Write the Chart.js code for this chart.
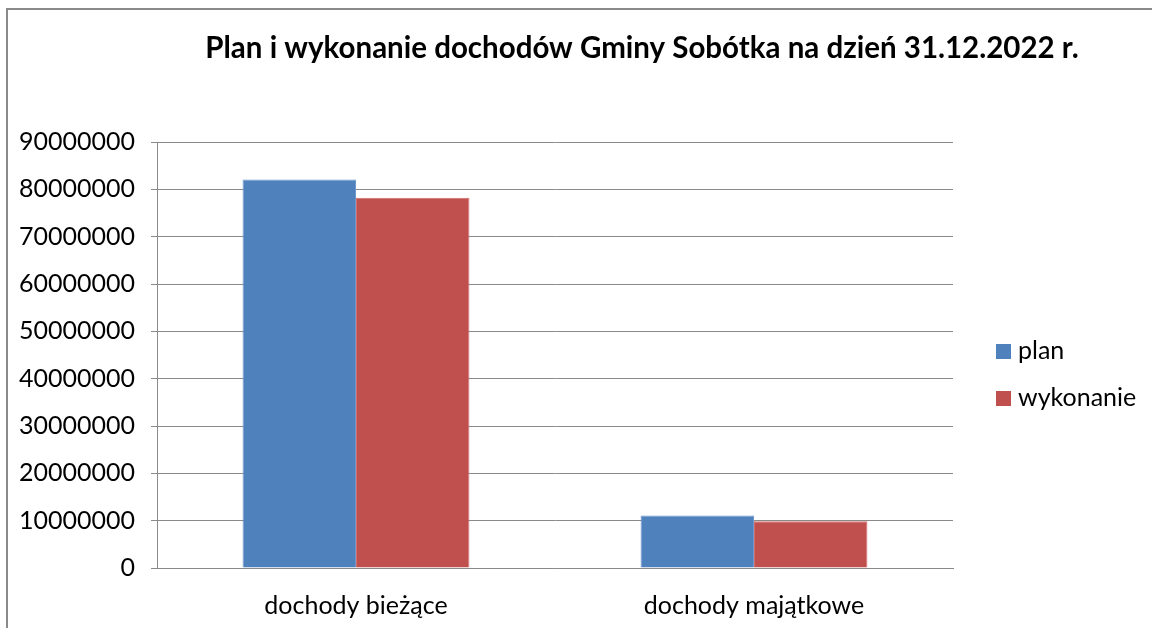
<!DOCTYPE html>
<html><head><meta charset="utf-8">
<script src="https://cdn.jsdelivr.net/npm/chart.js@4/dist/chart.umd.min.js"></script>
<style>
html,body{margin:0;padding:0;background:#fff;overflow:hidden}
#wrap{position:relative;width:1152px;height:628px}
#frame{position:absolute;left:6px;top:8px;right:-10px;bottom:-10px;border-left:2px solid #8a8a8a;border-top:2px solid #8a8a8a;pointer-events:none}
</style></head><body>
<div id="wrap"><canvas id="c" width="1152" height="628"></canvas><div id="frame"></div></div>
<script>
const titleText = 'Plan i wykonanie dochodów Gminy Sobótka na dzień 31.12.2022 r.';
const categories = ['dochody bieżące', 'dochody majątkowe'];
const seriesNames = ['plan', 'wykonanie'];
const planValues = [82100000, 11100000];
const wykonanieValues = [78200000, 9900000];
const yTickValues = [0, 10000000, 20000000, 30000000, 40000000, 50000000, 60000000, 70000000, 80000000, 90000000];

const FONT = 'Lato, "Open Sans", sans-serif';

const titlePlugin = {
  id: 'customTitle',
  afterDraw(chart) {
    const ctx = chart.ctx;
    ctx.save();
    ctx.font = 'bold 29.5px ' + FONT;
    ctx.fillStyle = '#000';
    ctx.textAlign = 'center';
    ctx.textBaseline = 'middle';
    ctx.fillText(titleText, 642, 48);
    ctx.restore();
  }
};

const legendPlugin = {
  id: 'customLegend',
  afterDraw(chart) {
    const ctx = chart.ctx;
    ctx.save();
    ctx.font = '25px ' + FONT;
    ctx.textBaseline = 'middle';
    ctx.textAlign = 'left';
    chart.data.datasets.forEach((ds, i) => {
      const cy = 351 + i * 47;
      ctx.fillStyle = ds.backgroundColor;
      ctx.fillRect(996, cy - 7, 15, 15);
      ctx.fillStyle = '#000';
      ctx.fillText(ds.label, 1018, cy);
    });
    ctx.restore();
  }
};

new Chart(document.getElementById('c'), {
  type: 'bar',
  data: {
    labels: categories,
    datasets: [
      { label: seriesNames[0], data: planValues, backgroundColor: '#4F81BD', borderColor: '#6f97cc', borderWidth: 1, categoryPercentage: 0.57, barPercentage: 1.0 },
      { label: seriesNames[1], data: wykonanieValues, backgroundColor: '#C0504D', borderColor: '#cf6e6b', borderWidth: 1, categoryPercentage: 0.57, barPercentage: 1.0 }
    ]
  },
  options: {
    responsive: false,
    animation: false,
    devicePixelRatio: 1,
    layout: { padding: { top: 142, right: 199, left: 0, bottom: 0 } },
    plugins: {
      legend: { display: false },
      title: { display: false },
      tooltip: { enabled: false }
    },
    scales: {
      x: {
        grid: { display: false, drawTicks: false },
        border: { display: true, color: '#8a8a8a', width: 1 },
        ticks: { color: '#000', font: { family: FONT, size: 25 }, padding: 23 },
        afterFit(scale) { scale.height = 60; }
      },
      y: {
        min: 0,
        max: 90000000,
        afterBuildTicks(scale) { scale.ticks = yTickValues.map(v => ({ value: v })); },
        grid: { color: '#8a8a8a', lineWidth: 1, drawTicks: true, tickLength: 6 },
        border: { display: true, color: '#8a8a8a', width: 1 },
        ticks: { color: '#000', font: { family: FONT, size: 25 }, padding: 16, callback: v => String(v) },
        afterFit(scale) { scale.width = 157; }
      }
    }
  },
  plugins: [titlePlugin, legendPlugin]
});
</script>
</body></html>
